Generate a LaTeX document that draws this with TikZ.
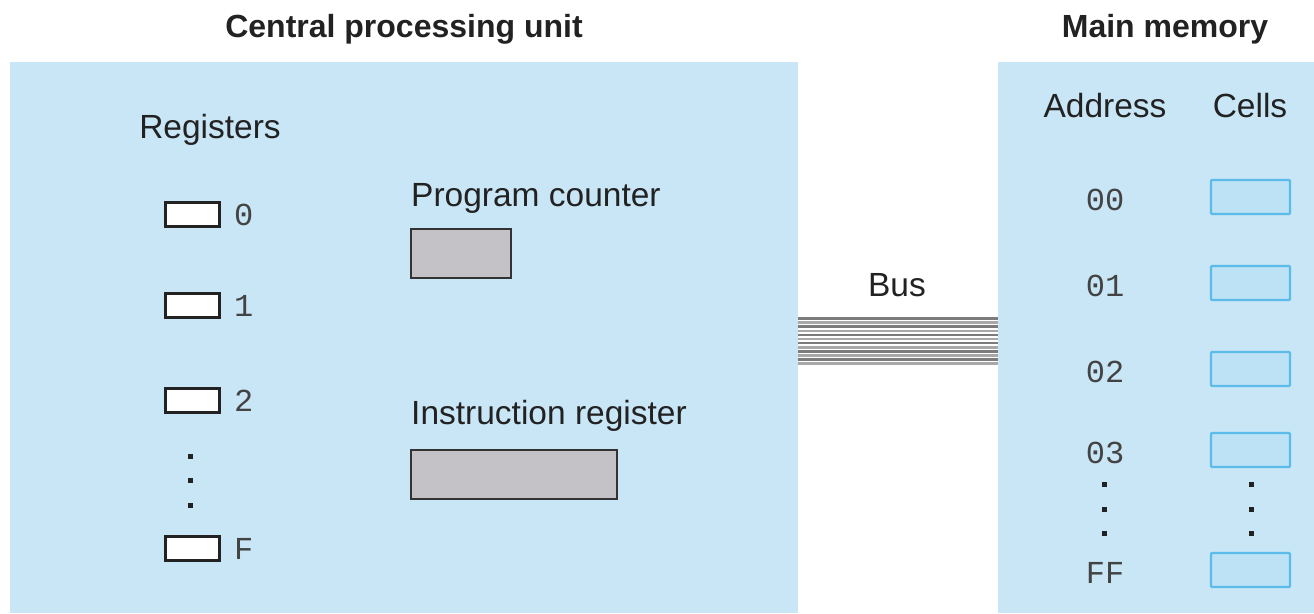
\documentclass[tikz,border=0pt]{standalone}
\usepackage{fontspec}
\setmainfont{Liberation Sans}
\newfontfamily\codefont{Liberation Mono}
\definecolor{panel}{HTML}{C9E6F6}
\definecolor{cellfill}{HTML}{BDE2F5}
\definecolor{celledge}{HTML}{5BBCEA}
\definecolor{regfill}{HTML}{C4C2C6}
\definecolor{regedge}{HTML}{333333}
\definecolor{busdark}{HTML}{7C7C7C}
\definecolor{buslight}{HTML}{A8A8A8}
\definecolor{ink}{HTML}{222222}
\tikzset{
  x=1pt, y=-1pt,
  panelbox/.style={fill=panel, draw=none},
  title/.style={font=\fontsize{32}{36}\selectfont\bfseries, text=ink, inner sep=0pt},
  label/.style={font=\fontsize{33.5}{38}\selectfont, text=ink, inner sep=0pt},
  code/.style={font=\codefont\fontsize{32}{36}\selectfont, text=ink!85, inner sep=0pt},
  regbox/.style={draw=ink, line width=3pt, fill=white},
  wordbox/.style={draw=regedge, line width=2.4pt, fill=regfill},
  cellbox/.style={draw=celledge, line width=2.2pt, fill=cellfill, rounded corners=1pt},
  vdot/.style={rectangle, fill=ink, inner sep=0pt, minimum size=5pt},
  buswire/.style={line width=2.6pt}
}
\begin{document}
\begin{tikzpicture}
\useasboundingbox (0,0) rectangle (1314,613);

% panels
\path[panelbox] (10,62) rectangle (798,613);
\path[panelbox] (998,62) rectangle (1314,613);
\coordinate (cpuR) at (798,0);
\coordinate (memL) at (998,0);

% titles
\node[title] (cputitle) at (404,29) {Central processing unit};
\node[title] (memtitle) at (1165,29) {Main memory};

% registers
\node[label] (reglabel) at (210,130) {Registers};
\foreach \n/\y/\t in {r0/214/0, r1/305/1, r2/400/2, rF/548/F}{
  \path[regbox] (165,\y-12) rectangle (219,\y+12);
  \node[code, anchor=west] (\n) at (234,\y+1) {\t};
}
\foreach \y in {456,480,505}{ \node[vdot] (rd\y) at (190,\y) {}; }

% program counter and instruction register
\node[label, anchor=west] (pclabel) at (411,198) {Program counter};
\path[wordbox] (411,229) rectangle (511,278);
\node[label, anchor=west] (irlabel) at (411,416) {Instruction register};
\path[wordbox] (411,450) rectangle (617,499);

% bus: twelve parallel wires in alternating shades
\node[label] (buslabel) at (897,285) {Bus};
\foreach \i in {0,...,11}{
  \pgfmathsetmacro{\yy}{318.5+\i*4.1}
  \ifodd\i \def\bc{buslight}\else\def\bc{busdark}\fi
  \draw[buswire, draw=\bc] (cpuR |- 0,\yy) -- (memL |- 0,\yy);
}

% memory
\node[label] (addrlabel) at (1105,106) {Address};
\node[label] (celllabel) at (1250,106) {Cells};
\foreach \n/\y/\t in {m0/197/00, m1/283/01, m2/369/02, m3/450/03, mF/570/FF}{
  \node[code] (\n) at (1105,\y+3) {\t};
  \path[cellbox] (1211,\y-17) rectangle (1290,\y+17);
}
\foreach \y in {484,509,533}{
  \node[vdot] (ad\y) at (1104,\y) {};
  \node[vdot] (cd\y) at (1251,\y) {};
}
\end{tikzpicture}
\end{document}
